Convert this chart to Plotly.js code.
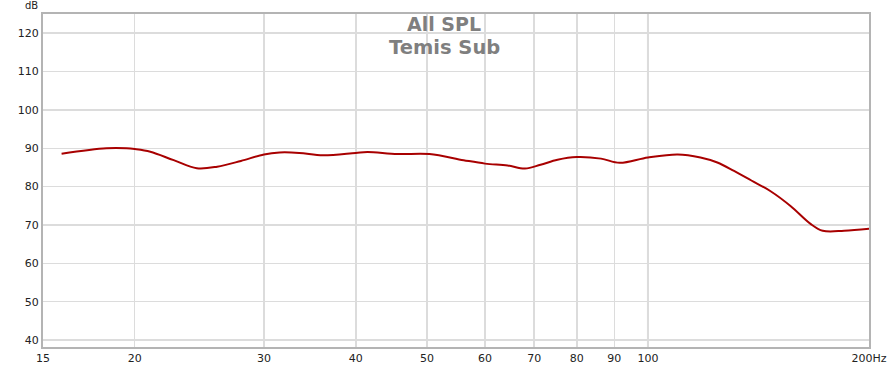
<!DOCTYPE html>
<html>
<head>
<meta charset="utf-8">
<script src="https://cdn.plot.ly/plotly-3.0.1.min.js"></script>
<style>html,body{margin:0;padding:0;background:#fff;}#chart{width:890px;height:368px;}</style>
</head>
<body>
<div id="chart"></div>
<script>
var freqHz = [15.9, 18.3, 19.5, 20, 21, 22.6, 24.3, 25.9, 27.9, 30, 31.5, 33.5, 36.1, 40, 41.5, 45.6, 50.4, 56.1, 60, 64.4, 68, 71.4, 75.3, 80, 86.3, 91.5, 100, 109.8, 117.9, 124.3, 131, 138.3, 146.9, 156.5, 166.5, 173, 185, 200];
var splDb  = [88.6, 90.0, 90.0, 89.8, 89.1, 86.9, 84.8, 85.2, 86.7, 88.4, 88.9, 88.8, 88.2, 88.8, 89.0, 88.5, 88.5, 86.9, 86.0, 85.5, 84.7, 85.7, 87.0, 87.7, 87.3, 86.2, 87.6, 88.4, 87.6, 86.3, 84.1, 81.6, 78.8, 74.9, 70.3, 68.5, 68.5, 69.0];
var xTickVals = [15, 20, 30, 40, 50, 60, 70, 80, 90, 100, 200];
var xTickText = ['15', '20', '30', '40', '50', '60', '70', '80', '90', '100', '200Hz'];
var yTickVals = [40, 50, 60, 70, 80, 90, 100, 110, 120];
var decadeLines = [100];
var titleLines = ['All SPL', 'Temis Sub'];

var trace = {
  x: freqHz, y: splDb, type: 'scatter', mode: 'lines',
  line: {color: '#a80000', width: 2, shape: 'spline', smoothing: 1},
  hoverinfo: 'skip'
};

var layout = {
  width: 890, height: 368,
  margin: {l: 43, r: 21, t: 14, b: 21},
  paper_bgcolor: '#ffffff', plot_bgcolor: '#ffffff',
  showlegend: false,
  font: {family: 'DejaVu Sans', size: 11, color: '#222'},
  xaxis: {
    type: 'log', range: [Math.log10(15), Math.log10(200)],
    tickvals: xTickVals, ticktext: xTickText, ticks: '',
    showgrid: true, gridcolor: '#dcdcdc', gridwidth: 1.5,
    zeroline: false, showline: true, linecolor: '#b4b4b4', linewidth: 2, mirror: true,
    tickfont: {family: 'DejaVu Sans', size: 11, color: '#222'}
  },
  yaxis: {
    range: [38.2, 125], tickvals: yTickVals, ticks: '',
    showgrid: true, gridcolor: '#dcdcdc', gridwidth: 1.5,
    zeroline: false, showline: true, linecolor: '#b4b4b4', linewidth: 2, mirror: true,
    tickfont: {family: 'DejaVu Sans', size: 11, color: '#222'}
  },
  shapes: decadeLines.map(function (v) {
    return {type: 'line', xref: 'x', yref: 'paper', x0: v, x1: v, y0: 0, y1: 1,
            line: {color: '#bdbdbd', width: 2}, layer: 'below'};
  }),
  annotations: [
    {text: 'dB', xref: 'paper', yref: 'paper', x: -0.004, y: 1, xanchor: 'right', yanchor: 'bottom',
     yshift: 1, showarrow: false, font: {family: 'DejaVu Sans', size: 10, color: '#222'}},
    {text: titleLines[0], xref: 'paper', yref: 'paper', x: 0.486, y: 1, xanchor: 'center', yanchor: 'middle',
     yshift: -10, showarrow: false, font: {family: 'DejaVu Sans', size: 19, color: '#7f7f7f', weight: 'bold'}},
    {text: titleLines[1], xref: 'paper', yref: 'paper', x: 0.486, y: 1, xanchor: 'center', yanchor: 'middle',
     yshift: -33, showarrow: false, font: {family: 'DejaVu Sans', size: 19.5, color: '#7f7f7f', weight: 'bold'}}
  ]
};

Plotly.newPlot('chart', [trace], layout, {displayModeBar: false, staticPlot: true});
</script>
</body>
</html>
